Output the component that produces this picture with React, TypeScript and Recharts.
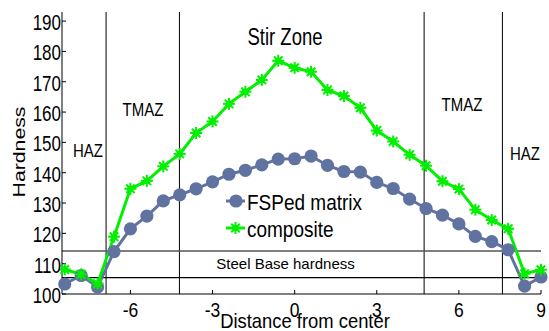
import React from 'react';
import { LineChart, Line, XAxis, YAxis, ReferenceLine } from 'recharts';

// distance from the weld centre (mm) and the two hardness profiles
const positions = [
  -8.4, -7.8, -7.2, -6.6, -6.0, -5.4, -4.8, -4.2, -3.6, -3.0,
  -2.4, -1.8, -1.2, -0.6, 0.0, 0.6, 1.2, 1.8, 2.4, 3.0,
  3.6, 4.2, 4.8, 5.4, 6.0, 6.6, 7.2, 7.8, 8.4, 9.0,
];
const matrixHardness = [
  103.3, 106.1, 102.3, 114.0, 121.5, 125.7, 130.7, 132.7, 134.7, 137.0,
  139.5, 140.8, 142.6, 144.5, 144.6, 145.5, 142.4, 140.4, 140.2, 136.8,
  134.8, 131.3, 128.2, 126.0, 123.1, 119.0, 117.3, 114.6, 102.6, 105.6,
];
const compositeHardness = [
  108.1, 106.5, 103.4, 118.9, 134.7, 137.3, 142.1, 146.2, 153.1, 156.9,
  162.7, 166.7, 170.6, 176.9, 174.6, 173.3, 167.3, 165.3, 161.4, 153.9,
  150.3, 145.9, 142.3, 137.2, 134.6, 127.8, 124.4, 121.5, 106.7, 108.0,
];

const zoneBoundaries = [-6.89, -4.21, 4.73, 7.59];
const steelBaseLow = 105.4;
const steelBaseHigh = 114.2;

const xTicks = [-6, -3, 0, 3, 6, 9];
const yTicks = [100, 110, 120, 130, 140, 150, 160, 170, 180, 190];

const BLUE = '#6073a0';
const GREEN = '#00f000';
const FONT = '"Liberation Sans", Arial, sans-serif';

const data = positions.map((x, i) => ({
  x,
  matrix: matrixHardness[i],
  composite: compositeHardness[i],
}));

const Star = ({ cx, cy }: { cx: number; cy: number }) => {
  const r = 6;
  return (
    <g>
      {[0, 45, 90, 135].map(a => {
        const t = (a * Math.PI) / 180;
        return (
          <line
            key={a}
            x1={cx - r * Math.cos(t)}
            y1={cy - r * Math.sin(t)}
            x2={cx + r * Math.cos(t)}
            y2={cy + r * Math.sin(t)}
            stroke={GREEN}
            strokeWidth={2}
          />
        );
      })}
      <circle cx={cx} cy={cy} r={3.2} fill={GREEN} />
    </g>
  );
};

const renderCircle = (p: any) => (
  <circle key={`m-${p.index}`} cx={p.cx} cy={p.cy} r={6.6} fill={BLUE} />
);
const renderStar = (p: any) => <Star key={`c-${p.index}`} cx={p.cx} cy={p.cy} />;

// the source figure is stretched vertically, so the text is too
const Txt = ({ x, y, size, sy = 1.2, anchor = 'middle', children }: any) => (
  <g transform={`translate(${x},${y})`}>
    <text transform={`scale(1,${sy})`} textAnchor={anchor} fontSize={size} fontFamily={FONT} fill="#000">
      {children}
    </text>
  </g>
);

const YTick = ({ x, y, payload }: any) => (
  <g transform={`translate(${x},${y})`}>
    <text transform="scale(1,1.25)" textAnchor="end" dy="0.42em" fontSize={17} fontFamily={FONT} fill="#000">
      {payload.value}
    </text>
  </g>
);

const XTick = ({ x, y, payload }: any) => (
  <g transform={`translate(${x},${y + 26.5})`}>
    <text transform="scale(1,1.2)" textAnchor="middle" fontSize={17.5} fontFamily={FONT} fill="#000">
      {payload.value}
    </text>
  </g>
);

export default function App() {
  return (
    <div style={{ position: 'relative', width: 549, height: 331, background: '#fff' }}>
      <style>{'body{margin:0}'}</style>
      <LineChart width={549} height={331} data={data} margin={{ top: 12, right: 8, bottom: 0, left: 0 }}>
        <XAxis
          dataKey="x"
          type="number"
          domain={[-8.5, 9]}
          ticks={xTicks}
          height={37}
          tickSize={-4}
          tickMargin={0}
          tick={<XTick />}
          axisLine={{ stroke: '#000' }}
          tickLine={{ stroke: '#000' }}
        />
        <YAxis
          type="number"
          domain={[100, 193]}
          ticks={yTicks}
          width={62}
          tickSize={-4}
          tickMargin={5}
          tick={<YTick />}
          axisLine={{ stroke: '#000' }}
          tickLine={{ stroke: '#000' }}
        />
        {zoneBoundaries.map(b => (
          <ReferenceLine key={b} x={b} stroke="#000" strokeWidth={1} />
        ))}
        <ReferenceLine y={steelBaseHigh} stroke="#555" strokeWidth={1.6} />
        <ReferenceLine y={steelBaseLow} stroke="#000" strokeWidth={1.2} />
        <Line
          dataKey="matrix"
          stroke={BLUE}
          strokeWidth={3}
          dot={renderCircle}
          activeDot={false}
          isAnimationActive={false}
        />
        <Line
          dataKey="composite"
          stroke={GREEN}
          strokeWidth={3}
          dot={renderStar}
          activeDot={false}
          isAnimationActive={false}
        />
      </LineChart>

      <svg
        width={549}
        height={331}
        style={{ position: 'absolute', left: 0, top: 0, pointerEvents: 'none' }}
      >
        <Txt x={285} y={45} size={18.5} sy={1.25}>Stir Zone</Txt>
        <Txt x={143} y={116} size={15} sy={1.2}>TMAZ</Txt>
        <Txt x={88} y={157} size={15} sy={1.2}>HAZ</Txt>
        <Txt x={462} y={110.5} size={15} sy={1.2}>TMAZ</Txt>
        <Txt x={525} y={160} size={15} sy={1.2}>HAZ</Txt>
        <Txt x={285.5} y={268.5} size={15} sy={1}>Steel Base hardness</Txt>

        {/* legend */}
        <line x1={226} y1={201} x2={245} y2={201} stroke={BLUE} strokeWidth={3} />
        <circle cx={236} cy={201} r={6.6} fill={BLUE} />
        <Txt x={247} y={210} size={19} sy={1.2} anchor="start">FSPed matrix</Txt>
        <line x1={226} y1={228} x2={245} y2={228} stroke={GREEN} strokeWidth={3} />
        <Star cx={235.5} cy={228} />
        <Txt x={247} y={237} size={19} sy={1.2} anchor="start">composite</Txt>

        {/* axis titles */}
        <Txt x={305} y={328} size={18.4} sy={1.13}>Distance from center</Txt>
        <g transform="translate(25,152) rotate(-90)">
          <text transform="scale(1.25,1)" textAnchor="middle" fontSize={17} fontFamily={FONT} fill="#000">
            Hardness
          </text>
        </g>
      </svg>
    </div>
  );
}
